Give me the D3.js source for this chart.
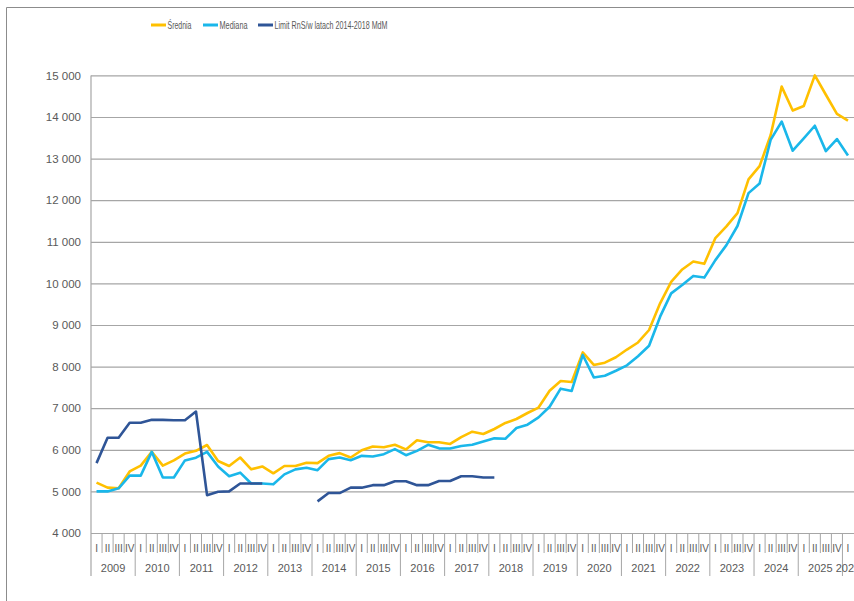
<!DOCTYPE html>
<html>
<head>
<meta charset="utf-8">
<script src="https://cdn.jsdelivr.net/npm/d3@7"></script>
<style>
  body { margin: 0; background: #fff; }
  svg { display: block; font-family: "Liberation Sans", Arial, sans-serif; }
</style>
</head>
<body>
<div id="chart"></div>
<script>
// categories: quarters 2009 I .. 2026 I
const years = [2009, 2010, 2011, 2012, 2013, 2014, 2015, 2016, 2017, 2018,
               2019, 2020, 2021, 2022, 2023, 2024, 2025, 2026];
const quarterLabels = ["I", "II", "III", "IV"];
const lastYearQuarters = 1;

const yTicks = [4000, 5000, 6000, 7000, 8000, 9000, 10000, 11000, 12000, 13000, 14000, 15000];

// Średnia
const srednia = [
  5210, 5090, 5075, 5480, 5620, 5950, 5620, 5745, 5910, 5975, 6115, 5730,
  5610, 5815, 5530, 5600, 5435, 5610, 5610, 5690, 5680, 5855, 5920, 5815,
  5990, 6080, 6060, 6120, 6010, 6230, 6180, 6180, 6140, 6305, 6435, 6380,
  6500, 6645, 6740, 6885, 7015, 7420, 7655, 7630, 8340, 8040, 8095, 8225,
  8410, 8580, 8880, 9520, 10035, 10335, 10525, 10470, 11090, 11370, 11690, 12500,
  12820, 13560, 14730, 14155, 14265, 15000, 14535, 14075, 13915
];

// Mediana
const mediana = [
  5000, 5000, 5075, 5380, 5380, 5950, 5335, 5335, 5745, 5810, 5950, 5600,
  5365, 5450, 5190, 5190, 5170, 5410, 5530, 5570, 5510, 5775, 5815, 5750,
  5855, 5840, 5895, 6015, 5870, 5975, 6120, 6035, 6030, 6090, 6120, 6200,
  6275, 6265, 6525, 6605, 6780, 7035, 7470, 7415, 8280, 7740, 7780, 7900,
  8030, 8250, 8500, 9200, 9760, 9960, 10180, 10140, 10560, 10920, 11380, 12170,
  12400, 13450, 13890, 13190, 13485, 13790, 13180, 13470, 13075
];

// Limit RnS/w latach 2014-2018 MdM (gap in 2013, ends 2018 I)
const limit = [
  5680, 6290, 6290, 6650, 6650, 6720, 6720, 6710, 6710, 6920, 4910, 4990,
  5000, 5190, 5190, 5190, null, null, null, null, 4760, 4960, 4960, 5090,
  5090, 5150, 5150, 5245, 5245, 5150, 5150, 5250, 5250, 5365, 5365, 5335,
  5335
];

const seriesNames = ["Średnia", "Mediana", "Limit RnS/w latach 2014-2018 MdM"];
const seriesColors = ["#ffc000", "#1ab7ea", "#2f5597"];

const categories = [];
years.forEach((yr, yi) => {
  const n = yi === years.length - 1 ? lastYearQuarters : 4;
  for (let q = 0; q < n; q++) categories.push({ key: yr + "-" + quarterLabels[q], year: yr, q: q });
});

const width = 854, height = 601;
const margin = { top: 75.4, left: 91, right: 0.5, bottom: 68 };

const svg = d3.select("#chart").append("svg")
  .attr("width", width)
  .attr("height", height);

// outer frame
svg.append("path")
  .attr("d", "M6.5," + height + "V7.5H" + width)
  .attr("fill", "none")
  .attr("stroke", "#8c8c8c")
  .attr("stroke-width", 1);

const x = d3.scaleBand()
  .domain(categories.map(d => d.key))
  .range([margin.left, width - margin.right])
  .paddingInner(0).paddingOuter(0);

const y = d3.scaleLinear()
  .domain([4000, 15000])
  .range([533, margin.top]);

// gridlines + y labels
const yAxis = svg.append("g")
  .attr("transform", "translate(" + margin.left + ",0)")
  .call(d3.axisLeft(y)
    .tickValues(yTicks)
    .tickSize(-(width - margin.left))
    .tickPadding(10)
    .tickFormat(d => d3.format(",")(d).replace(",", " ")));
yAxis.select(".domain").remove();
yAxis.selectAll(".tick line").attr("stroke", "#a6a6a6").attr("stroke-width", 1.2);
yAxis.selectAll(".tick text")
  .attr("fill", "#595959")
  .style("font-size", "11.5px");

// y axis line (continues down through category labels)
svg.append("line")
  .attr("x1", margin.left).attr("x2", margin.left)
  .attr("y1", y(15000)).attr("y2", 576)
  .attr("stroke", "#a6a6a6").attr("stroke-width", 1.2);

// category axis: quarter ticks and year separators
const bw = x.bandwidth();
const catAxis = svg.append("g");
categories.forEach((c, i) => {
  const bx = x(c.key);
  if (i > 0) {
    catAxis.append("line")
      .attr("x1", bx).attr("x2", bx)
      .attr("y1", y(4000)).attr("y2", c.q === 0 ? 576 : 553)
      .attr("stroke", "#a6a6a6").attr("stroke-width", 1);
  }
  catAxis.append("text")
    .attr("x", bx + bw / 2)
    .attr("y", 551.5)
    .attr("text-anchor", "middle")
    .attr("fill", "#595959")
    .style("font-size", "10px")
    .text(quarterLabels[c.q]);
});
years.forEach(yr => {
  const qs = categories.filter(c => c.year === yr);
  const x0 = x(qs[0].key), x1 = x(qs[qs.length - 1].key) + bw;
  catAxis.append("text")
    .attr("x", (x0 + x1) / 2)
    .attr("y", 572)
    .attr("text-anchor", "middle")
    .attr("fill", "#595959")
    .style("font-size", "11px")
    .text(yr);
});

// lines
const line = d3.line()
  .defined(d => d.v !== null)
  .x(d => x(d.key) + bw / 2)
  .y(d => y(d.v));

[srednia, mediana, limit].forEach((vals, si) => {
  const data = vals.map((v, i) => ({ key: categories[i].key, v: v }));
  svg.append("path")
    .datum(data)
    .attr("fill", "none")
    .attr("stroke", seriesColors[si])
    .attr("stroke-width", 2.6)
    .attr("stroke-linejoin", "round")
    .attr("d", line);
});

// legend (condensed text like the original)
const legendX = [151, 203, 258];
const legendW = [24, 28, 113];
const legend = svg.append("g");
seriesNames.forEach((name, i) => {
  legend.append("line")
    .attr("x1", legendX[i]).attr("x2", legendX[i] + 15)
    .attr("y1", 25).attr("y2", 25)
    .attr("stroke", seriesColors[i]).attr("stroke-width", 3);
  legend.append("text")
    .attr("x", legendX[i] + 16.5)
    .attr("y", 29)
    .attr("fill", "#595959")
    .style("font-size", "11px")
    .attr("textLength", legendW[i])
    .attr("lengthAdjust", "spacingAndGlyphs")
    .text(name);
});
</script>
</body>
</html>
